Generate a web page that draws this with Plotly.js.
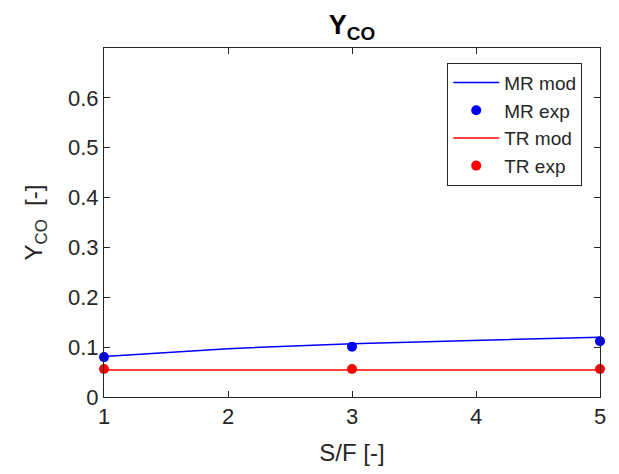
<!DOCTYPE html>
<html><head><meta charset="utf-8">
<script src="https://cdn.plot.ly/plotly-3.0.1.min.js"></script>
<style>html,body{margin:0;padding:0;background:#fff}</style>
</head><body>
<div id="chart" style="width:619px;height:474px"></div>
<script>
const xMod = [1, 2, 3, 4, 5];
const mrMod = [0.081, 0.097, 0.107, 0.114, 0.120];
const xExp = [1, 3, 5];
const mrExp = [0.080, 0.101, 0.112];
const trMod = [0.054, 0.054, 0.054, 0.054, 0.054];
const trExp = [0.056, 0.056, 0.056];
const xTicks = [1, 2, 3, 4, 5];
const yTicks = [0, 0.1, 0.2, 0.3, 0.4, 0.5, 0.6];
const yTickText = ['0', '0.1', '0.2', '0.3', '0.4', '0.5', '0.6'];

const fam = 'Liberation Sans, Arial, sans-serif';
const col = '#262626';
const traces = [
  {x: xMod, y: mrMod, name: 'MR mod', mode: 'lines', line: {color: '#0000ff', width: 1.5}},
  {x: xExp, y: mrExp, name: 'MR exp', mode: 'markers', marker: {color: '#0000ff', size: 10}, cliponaxis: false},
  {x: xMod, y: trMod, name: 'TR mod', mode: 'lines', line: {color: '#ff0000', width: 1.5}},
  {x: xExp, y: trExp, name: 'TR exp', mode: 'markers', marker: {color: '#ff0000', size: 10}, cliponaxis: false}
];
function axis(extra) {
  return Object.assign({
    showgrid: false, zeroline: false, showline: true, mirror: 'ticks',
    linecolor: col, linewidth: 1, ticks: 'inside', ticklen: 6, tickcolor: col,
    tickfont: {family: fam, size: 22, color: col}
  }, extra);
}
const layout = {
  width: 619, height: 474,
  margin: {l: 104, r: 19, t: 48, b: 77},
  paper_bgcolor: '#fff', plot_bgcolor: '#fff',
  font: {family: fam, color: col},
  title: {text: '<b>Y<sub>CO</sub></b>', font: {family: fam, size: 27, color: '#000'},
    xref: 'paper', x: 0.5, xanchor: 'center', y: 0.948, yanchor: 'middle'},
  xaxis: axis({range: [1, 5], tickvals: xTicks,
    title: {text: 'S/F [-]', font: {family: fam, size: 24, color: col}, standoff: 15}}),
  yaxis: axis({range: [0, 0.7], tickvals: yTicks, ticktext: yTickText,
    title: {text: 'Y<sub>CO</sub>&nbsp; [-]', font: {family: fam, size: 24, color: col}, standoff: 18}}),
  showlegend: true,
  legend: {x: 0.692, y: 0.958, xanchor: 'left', yanchor: 'top', bgcolor: '#fff',
    bordercolor: col, borderwidth: 1, font: {family: fam, size: 19, color: col},
    tracegroupgap: 0, itemwidth: 46}
};
Plotly.newPlot('chart', traces, layout, {displayModeBar: false, staticPlot: true});
</script>
</body></html>
